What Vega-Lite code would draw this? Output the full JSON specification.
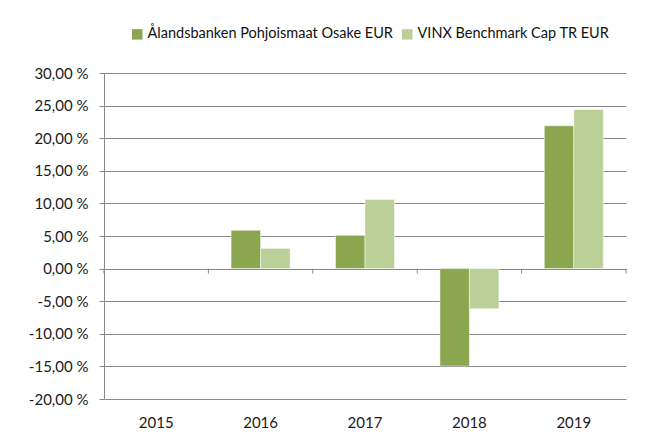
{
  "$schema": "https://vega.github.io/schema/vega-lite/v6.json",
  "width": 522,
  "height": 326,
  "autosize": {"type": "none"},
  "padding": {"left": 104, "top": 73, "right": 20, "bottom": 42},
  "background": "#ffffff",
  "config": {
    "view": {"stroke": null},
    "font": "Lato",
    "axis": {"labelFont": "Lato", "labelColor": "#1a1a1a", "labelFontSize": 15}
  },
  "datasets": {
    "bars": [
      {"year": "2016", "series": "Ålandsbanken Pohjoismaat Osake EUR", "value": 5.87},
      {"year": "2016", "series": "VINX Benchmark Cap TR EUR", "value": 3.1},
      {"year": "2017", "series": "Ålandsbanken Pohjoismaat Osake EUR", "value": 5.1},
      {"year": "2017", "series": "VINX Benchmark Cap TR EUR", "value": 10.6},
      {"year": "2018", "series": "Ålandsbanken Pohjoismaat Osake EUR", "value": -14.95},
      {"year": "2018", "series": "VINX Benchmark Cap TR EUR", "value": -6.15},
      {"year": "2019", "series": "Ålandsbanken Pohjoismaat Osake EUR", "value": 21.9},
      {"year": "2019", "series": "VINX Benchmark Cap TR EUR", "value": 24.4}
    ],
    "ticks": [
      {"year": "2015", "value": 0, "bottom": -0.77},
      {"year": "2016", "value": 0, "bottom": -0.77},
      {"year": "2017", "value": 0, "bottom": -0.77},
      {"year": "2018", "value": 0, "bottom": -0.77},
      {"year": "2019", "value": 0, "bottom": -0.77}
    ],
    "endtick": [
      {"year": "2019", "value": 0, "bottom": -0.77}
    ]
  },
  "encoding": {
    "x": {
      "field": "year", "type": "nominal",
      "scale": {"domain": ["2015", "2016", "2017", "2018", "2019"], "paddingInner": 0.435, "paddingOuter": 0.2175},
      "axis": {"title": null, "domain": false, "ticks": false, "labelAngle": 0, "labelPadding": 16, "grid": false}
    },
    "y": {
      "field": "value", "type": "quantitative",
      "scale": {"domain": [-20, 30], "nice": false, "zero": false},
      "axis": {
        "title": null, "values": [-20, -15, -10, -5, 0, 5, 10, 15, 20, 25, 30],
        "labelOverlap": false,
        "labelExpr": "(datum.value < 0 ? '-' : '') + replace(format(abs(datum.value), '.2f'), '.', ',') + ' %'",
        "grid": true, "gridColor": "#888888", "gridWidth": 1,
        "domainColor": "#888888", "tickColor": "#888888", "tickSize": 5, "labelPadding": 11
      }
    }
  },
  "layer": [
    {
      "data": {"name": "bars"},
      "mark": {"type": "bar", "stroke": "#ffffff", "strokeWidth": 0.8, "strokeOpacity": 0.6},
      "encoding": {
        "xOffset": {"field": "series", "type": "nominal", "sort": ["Ålandsbanken Pohjoismaat Osake EUR", "VINX Benchmark Cap TR EUR"], "scale": {"paddingInner": 0, "paddingOuter": 0}},
        "color": {
          "field": "series", "type": "nominal",
          "scale": {"domain": ["Ålandsbanken Pohjoismaat Osake EUR", "VINX Benchmark Cap TR EUR"], "range": ["#8aa64f", "#bbd098"]},
          "legend": {
            "title": null, "orient": "none", "direction": "horizontal",
            "legendX": 26, "legendY": -46, "labelLimit": 400,
            "symbolType": "square", "symbolSize": 110, "symbolStrokeWidth": 0,
            "labelFont": "Lato", "labelFontSize": 14.5, "labelColor": "#111111",
            "columnPadding": 7, "labelOffset": 3, "symbolOffset": 0
          }
        }
      }
    },
    {
      "data": {"name": "ticks"},
      "mark": {"type": "rule", "color": "#888888", "strokeWidth": 1},
      "encoding": {
        "x": {"field": "year", "type": "nominal", "bandPosition": -0.385},
        "y2": {"field": "bottom"}
      }
    },
    {
      "data": {"name": "endtick"},
      "mark": {"type": "rule", "color": "#888888", "strokeWidth": 1},
      "encoding": {
        "x": {"field": "year", "type": "nominal", "bandPosition": 1.385},
        "y2": {"field": "bottom"}
      }
    }
  ]
}
